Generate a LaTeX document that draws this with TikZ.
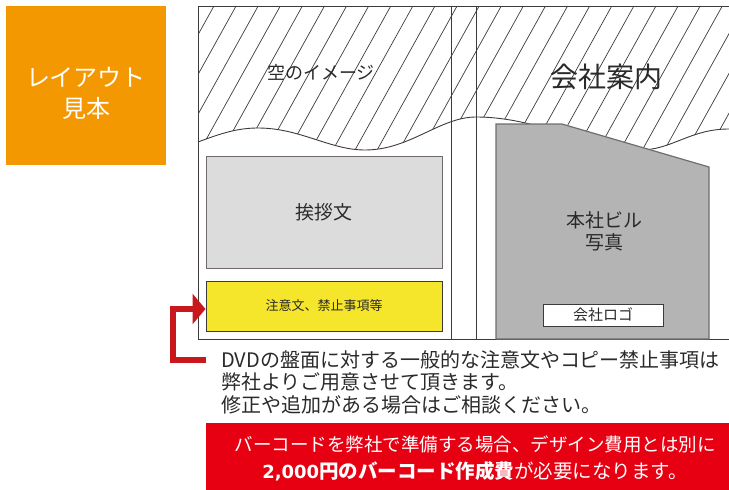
\documentclass[tikz,border=0pt]{standalone}
\usepackage{fontspec}
\setmainfont{Noto Sans CJK JP}
\newfontfamily\digitfont{DejaVu Sans}
\usetikzlibrary{arrows.meta}
\definecolor{orangeC}{HTML}{F39800}
\definecolor{redbox}{HTML}{E60012}
\definecolor{redarrow}{HTML}{C9171E}
\definecolor{greetfill}{HTML}{DCDCDC}
\definecolor{boxline}{HTML}{6F6A68}
\definecolor{bldfill}{HTML}{B4B4B4}
\definecolor{bldline}{HTML}{6E6E6E}
\definecolor{yellowC}{HTML}{F5E62B}
\definecolor{frameC}{HTML}{3E3A39}
\definecolor{txtC}{HTML}{2A2A2A}
\newcommand{\fs}[1]{\fontsize{#1}{#1}\selectfont}
\tikzset{
  framel/.style={draw=frameC, line width=0.9pt},
  hatchl/.style={draw=frameC, line width=0.7pt},
  panelbox/.style={draw=boxline, line width=1pt, inner sep=0pt},
  lbl/.style={text=txtC, inner sep=0pt, align=center},
  conn/.style={draw=redarrow, line width=6pt, -{Triangle[length=13pt,width=30pt]}},
}
\begin{document}
\begin{tikzpicture}[x=1pt,y=-1pt]
\useasboundingbox (0,0) rectangle (729,490);
% orange badge
\node[fill=orangeC, minimum width=160pt, minimum height=159pt, inner sep=0pt, anchor=north west] (badge) at (6,6) {};
\node[inner sep=0pt, text=white, align=center, font=\fontsize{24}{31}\selectfont] (badgetext) at (86,93) {レイアウト\\見本};
% hatching clipped above the wave
\def\wave{(198,142) .. controls (222,133) and (238,128) .. (258,128)
  .. controls (300,128) and (330,150) .. (365,150)
  .. controls (410,150) and (440,117) .. (476,117)
  .. controls (540,117) and (590,150) .. (640,150)
  .. controls (672,150) and (690,129) .. (729,129) -- (745,129)}
\begin{scope}
  \clip (198,6) -- \wave -- (745,6) -- cycle;
  \foreach \k in {-18,...,12} {
    \draw[hatchl] (487.6+22.1*\k,150) -- (570.9+22.1*\k,0);
  }
\end{scope}
\draw[framel] \wave;
% frame and folds
\draw[framel] (745,6) -- (198,6) -- (198,339) -- (745,339);
\draw[framel] (451,6) -- (451,339);
\draw[framel] (476,6) -- (476,339);
% building photo
\draw[draw=bldline, fill=bldfill, line width=1.2pt] (496,124) -- (562,124) -- (709,167) -- (709,339) -- (496,339) -- cycle;
\node[lbl, font=\fs{19}] (bldtext) at (604,231) {本社ビル\\[3pt]写真};
\node[panelbox, draw=frameC, fill=white, minimum width=120pt, minimum height=22pt, font=\fs{15}, text=txtC] (logo) at (603,315) {会社ロゴ};
% greeting
\node[panelbox, fill=greetfill, minimum width=236pt, minimum height=112pt, font=\fs{19}, text=txtC] (greet) at (324,212) {挨拶文};
% caution
\node[panelbox, draw=frameC, fill=yellowC, minimum width=236pt, minimum height=50pt, font=\fs{13}, text=txtC] (caution) at (324,306) {注意文、禁止事項等};
% titles
\node[lbl, font=\fs{18}] (sky) at (321,72) {空のイメージ};
\node[lbl, font=\fs{28}] (company) at (606,77) {会社案内};
% explanatory text
\node[lbl, align=left, anchor=west, font=\fontsize{20}{22.5}\selectfont] (note) at (221,382) {DVDの盤面に対する一般的な注意文やコピー禁止事項は\\弊社よりご用意させて頂きます。\\修正や追加がある場合はご相談ください。};
\coordinate (cstart) at (206,360);
\draw[conn] (cstart) -- (173,360) |- ([yshift=-3pt]caution.west);
% red notice
\fill[redbox] (206,423) rectangle (745,495);
\node[inner sep=0pt, text=white, align=center, font=\fontsize{18.5}{27}\selectfont] (barcode) at (475,458) {バーコードを弊社で準備する場合、デザイン費用とは別に\\{\fontsize{19.5}{27}\selectfont\textbf{{\digitfont\fontsize{18}{27}\selectfont 2,000}円のバーコード作成費}が必要になります。}};
\end{tikzpicture}
\end{document}
